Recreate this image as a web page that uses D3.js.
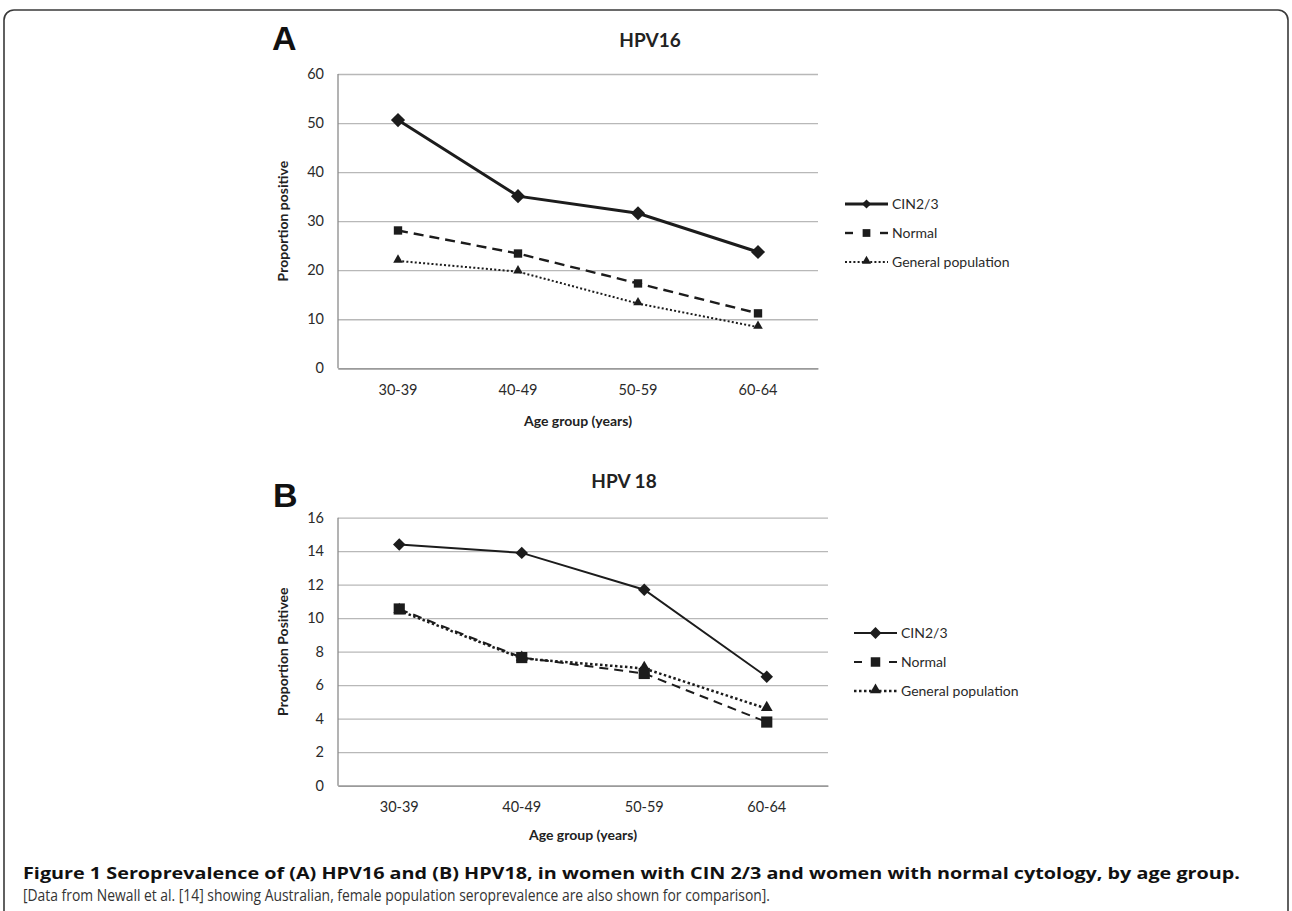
<!DOCTYPE html>
<html><head><meta charset="utf-8">
<script src="https://cdn.jsdelivr.net/npm/d3@7"></script>
<style>
html,body{margin:0;padding:0;background:#fff;}
svg{display:block;}
</style></head>
<body>
<svg id="fig" width="1292" height="911"></svg>
<script>
const categories = ["30-39", "40-49", "50-59", "60-64"];
const seriesNames = ["CIN2/3", "Normal", "General population"];
// Panel A: HPV16
const hpv16_cin = [50.6, 35.1, 31.6, 23.7];
const hpv16_normal = [28.1, 23.4, 17.3, 11.2];
const hpv16_general = [21.9, 19.7, 13.2, 8.4];
const hpv16_ticks = [0, 10, 20, 30, 40, 50, 60];
// Panel B: HPV18
const hpv18_cin = [14.4, 13.9, 11.7, 6.5];
const hpv18_normal = [10.55, 7.65, 6.7, 3.8];
const hpv18_general = [10.45, 7.6, 7.0, 4.6];
const hpv18_ticks = [0, 2, 4, 6, 8, 10, 12, 14, 16];

const svg = d3.select("#fig");
const INK = "#1c1c1c";
const FONT = "Lato, 'Open Sans', sans-serif";

// Frame
svg.append("rect").attr("x", 4).attr("y", 10).attr("width", 1284).attr("height", 1000)
  .attr("rx", 10).attr("fill", "none").attr("stroke", "#3a3a3a").attr("stroke-width", 1.6);

function panel(cfg) {
  const g = svg.append("g");
  const x = d3.scaleBand().domain(categories).range([cfg.left, cfg.right]).padding(0);
  const y = d3.scaleLinear().domain([cfg.ticks[0], cfg.ticks[cfg.ticks.length - 1]]).range([cfg.bottom, cfg.top]);
  const cx = c => x(c) + x.bandwidth() / 2;

  // gridlines via axis
  const grid = g.append("g").attr("transform", `translate(${cfg.left},0)`)
    .call(d3.axisLeft(y).tickValues(cfg.ticks).tickSize(-(cfg.right - cfg.left)).tickFormat(""));
  grid.select(".domain").remove();
  grid.selectAll(".tick line").attr("stroke", "#b8b8b8").attr("stroke-width", 1.3);

  // y axis labels
  const ya = g.append("g").attr("transform", `translate(${cfg.left - 14},0)`)
    .call(d3.axisLeft(y).tickValues(cfg.ticks).tickSize(0).tickPadding(0));
  ya.select(".domain").remove();
  ya.selectAll("text").attr("font-family", FONT).attr("font-size", 14.5).attr("fill", "#2a2a2a");

  // x axis
  const xa = g.append("g").attr("transform", `translate(0,${cfg.bottom})`)
    .call(d3.axisBottom(x).tickSize(0).tickPadding(cfg.xPad));
  xa.select(".domain").attr("stroke", "#8a8a8a").attr("stroke-width", 1.3);
  xa.selectAll("text").attr("font-family", FONT).attr("font-size", 14.5).attr("fill", "#2a2a2a");
  // y axis line
  g.append("line").attr("x1", cfg.left).attr("x2", cfg.left).attr("y1", cfg.top).attr("y2", cfg.bottom)
    .attr("stroke", "#8a8a8a").attr("stroke-width", 1.3);

  // titles
  g.append("text").attr("x", cfg.titleX).attr("y", cfg.titleY).attr("text-anchor", "middle")
    .attr("font-family", FONT).attr("font-weight", "bold").attr("font-size", 19).attr("fill", "#222").text(cfg.title);
  g.append("text").attr("x", cfg.letterX).attr("y", cfg.letterY)
    .attr("font-family", "'Liberation Sans', Arial, sans-serif").attr("font-weight", "bold").attr("font-size", 34).attr("fill", "#111").text(cfg.letter);
  g.append("text").attr("x", (cfg.left + cfg.right) / 2).attr("y", cfg.xTitleY).attr("text-anchor", "middle")
    .attr("font-family", FONT).attr("font-weight", "bold").attr("font-size", 14).attr("fill", "#222").text("Age group (years)");
  g.append("text").attr("transform", `translate(${cfg.yTitleX},${(cfg.top + cfg.bottom) / 2}) rotate(-90)`)
    .attr("text-anchor", "middle").attr("font-family", FONT).attr("font-weight", "bold").attr("font-size", 14)
    .attr("fill", "#222").text(cfg.yTitle);

  const styles = cfg.styles;
  const data = [cfg.cin, cfg.normal, cfg.general];
  const line = d3.line().x((d, i) => cx(categories[i])).y(d => y(d));
  const order = [2, 1, 0];
  order.forEach(si => {
    const st = styles[si];
    g.append("path").datum(data[si]).attr("d", line).attr("fill", "none").attr("stroke", INK)
      .attr("stroke-width", st.w).attr("stroke-dasharray", st.dash).attr("stroke-linecap", st.cap || "butt");
  });
  order.forEach(si => {
    const st = styles[si];
    g.selectAll(null).data(data[si]).enter().append("path")
      .attr("d", d3.symbol().type(st.sym).size(st.size)())
      .attr("transform", (d, i) => `translate(${cx(categories[i])},${y(d) + (st.dy || 0)}) rotate(${st.rot || 0})`)
      .attr("fill", INK);
  });

  // legend
  const lg = g.append("g");
  seriesNames.forEach((name, si) => {
    const st = styles[si];
    const ly = cfg.legY + si * cfg.legGap;
    const x0 = cfg.legX, x1 = cfg.legX + cfg.legLen;
    if (si === 1) {
      lg.append("line").attr("x1", x0).attr("x2", x0 + 8).attr("y1", ly).attr("y2", ly).attr("stroke", INK).attr("stroke-width", st.w);
      lg.append("line").attr("x1", x1 - 8).attr("x2", x1).attr("y1", ly).attr("y2", ly).attr("stroke", INK).attr("stroke-width", st.w);
    } else {
      lg.append("line").attr("x1", x0).attr("x2", x1).attr("y1", ly).attr("y2", ly).attr("stroke", INK)
        .attr("stroke-width", st.w).attr("stroke-dasharray", st.dash);
    }
    lg.append("path").attr("d", d3.symbol().type(st.sym).size(st.legSize)())
      .attr("transform", `translate(${(x0 + x1) / 2},${ly + (st.dy || 0)}) rotate(${st.rot || 0})`).attr("fill", INK);
    lg.append("text").attr("x", x1 + 4).attr("y", ly).attr("dy", "0.35em").attr("font-family", FONT)
      .attr("font-size", 14).attr("fill", "#2a2a2a").text(name);
  });
}

panel({
  left: 338, right: 818, top: 74, bottom: 368.3, ticks: hpv16_ticks, xPad: 16,
  cin: hpv16_cin, normal: hpv16_normal, general: hpv16_general,
  title: "HPV16", titleX: 650, titleY: 47, letter: "A", letterX: 272, letterY: 50,
  xTitleY: 426, yTitleX: 288, yTitle: "Proportion positive",
  legX: 845, legLen: 43, legY: 204, legGap: 29,
  styles: [
    { w: 3, dash: null, sym: d3.symbolSquare, size: 100, rot: 45, legSize: 42 },
    { w: 2.4, dash: "10,6", sym: d3.symbolSquare, size: 70, legSize: 60 },
    { w: 2, dash: "2,2.2", sym: d3.symbolTriangle, size: 40, dy: -1, legSize: 36 }
  ]
});

panel({
  left: 338, right: 828, top: 517.7, bottom: 785.7, ticks: hpv18_ticks, xPad: 16,
  cin: hpv18_cin, normal: hpv18_normal, general: hpv18_general,
  title: "HPV 18", titleX: 624, titleY: 488, letter: "B", letterX: 273, letterY: 507,
  xTitleY: 840, yTitleX: 288, yTitle: "Proportion Positivee",
  legX: 854, legLen: 43, legY: 633, legGap: 29,
  styles: [
    { w: 2, dash: null, sym: d3.symbolSquare, size: 78, rot: 45, legSize: 70 },
    { w: 2, dash: "9,6", sym: d3.symbolSquare, size: 125, legSize: 90 },
    { w: 2.5, dash: "2.5,2.5", sym: d3.symbolTriangle, size: 60, dy: -1, legSize: 55 }
  ]
});

// Caption
svg.append("text").attr("x", 23).attr("y", 879).attr("font-family", "'Open Sans', sans-serif").attr("font-weight", "bold")
  .attr("font-size", 16.5).attr("fill", "#111").attr("textLength", 1217).attr("lengthAdjust", "spacingAndGlyphs")
  .text("Figure 1 Seroprevalence of (A) HPV16 and (B) HPV18, in women with CIN 2/3 and women with normal cytology, by age group.");
svg.append("text").attr("x", 23).attr("y", 901).attr("font-family", "'Open Sans', sans-serif")
  .attr("font-size", 15.5).attr("fill", "#333").attr("textLength", 747).attr("lengthAdjust", "spacingAndGlyphs")
  .text("[Data from Newall et al. [14] showing Australian, female population seroprevalence are also shown for comparison].");
</script>
</body></html>
